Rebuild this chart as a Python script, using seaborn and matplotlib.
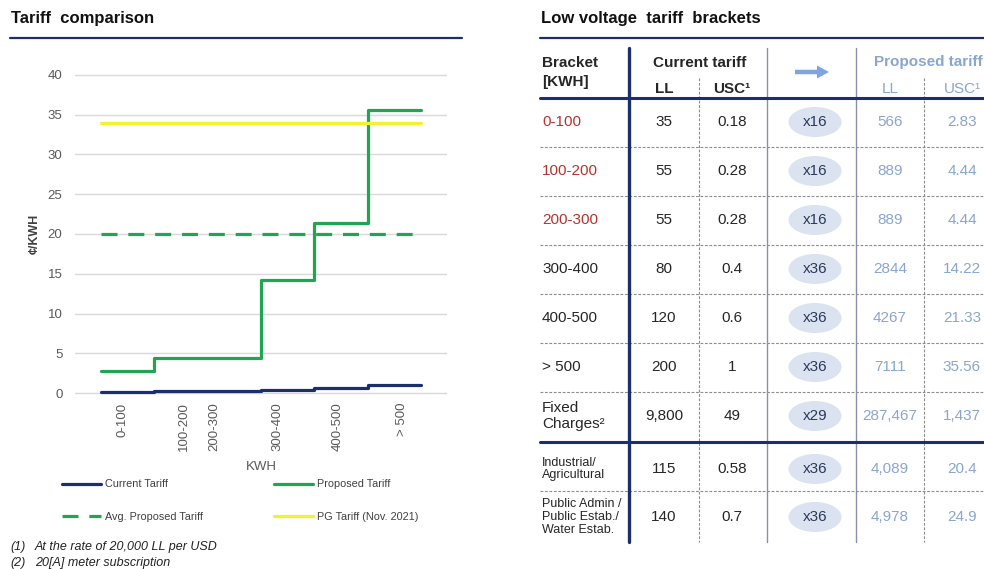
import matplotlib
matplotlib.use("Agg")
import matplotlib.pyplot as plt
from matplotlib.lines import Line2D
from matplotlib.patches import Ellipse, FancyArrow
import seaborn as sns
import pandas as pd

# ---- data -------------------------------------------------------------
bracket_edges = [0, 100, 200, 300, 400, 500, 600]          # kWh
bracket_names = ["0-100", "100-200", "200-300", "300-400", "400-500", "> 500"]
current_ll = [35, 55, 55, 80, 120, 200]                     # LL per kWh
current_usc = [0.18, 0.28, 0.28, 0.4, 0.6, 1.0]              # US cents per kWh
multipliers = ["x16", "x16", "x16", "x36", "x36", "x36"]
proposed_ll = [566, 889, 889, 2844, 4267, 7111]
proposed_usc = [2.83, 4.44, 4.44, 14.22, 21.33, 35.56]
avg_proposed_usc = 20.0
pg_tariff_usc = 34.0

extra_rows = ["Fixed\nCharges²", "Industrial/\nAgricultural",
              "Public Admin /\nPublic Estab./\nWater Estab."]
extra_current_ll = ["9,800", "115", "140"]
extra_current_usc = ["49", "0.58", "0.7"]
extra_multipliers = ["x29", "x36", "x36"]
extra_proposed_ll = ["287,467", "4,089", "4,978"]
extra_proposed_usc = ["1,437", "20.4", "24.9"]

tick_positions = [41, 156, 212, 330, 444, 564]
tick_labels = bracket_names

# ---- style ------------------------------------------------------------
sns.set_style("white")
plt.rcParams["font.family"] = ["Liberation Sans", "DejaVu Sans"]

NAVY = "#1b2f6e"
GREEN = "#20a652"
YELLOW = "#f3f22e"
GRAY = "#595959"
RED = "#b8322f"
LIGHT = "#8aa6cf"
W, H = 984, 569


def fx(px):
    return px / W


def fy(py):
    return 1 - py / H


fig = plt.figure(figsize=(W / 100, H / 100), dpi=100)

# ---- headings ---------------------------------------------------------
fig.text(fx(11), fy(19), "Tariff  comparison", fontsize=12, fontweight="bold",
         color="#111111", va="center", ha="left")
fig.text(fx(541), fy(19), "Low voltage  tariff  brackets", fontsize=12,
         fontweight="bold", color="#111111", va="center", ha="left")
fig.add_artist(Line2D([fx(10), fx(462)], [fy(38), fy(38)], color=NAVY, lw=1.6))
fig.add_artist(Line2D([fx(540), fx(984)], [fy(38), fy(38)], color=NAVY, lw=1.6))

# ---- step chart -------------------------------------------------------
ax = fig.add_axes([fx(75), fy(397), (447 - 75) / W, (397 - 71) / H])

df = pd.DataFrame({
    "kwh": bracket_edges,
    "current": current_usc + current_usc[-1:],
    "proposed": proposed_usc + proposed_usc[-1:],
})
flat = pd.DataFrame({
    "kwh": [bracket_edges[0], bracket_edges[-1]],
    "avg": [avg_proposed_usc] * 2,
    "pg": [pg_tariff_usc] * 2,
})

sns.lineplot(data=df, x="kwh", y="current", ax=ax, color=NAVY, lw=2.3,
             drawstyle="steps-post", estimator=None, sort=False,
             label="Current Tariff", clip_on=False)
sns.lineplot(data=flat, x="kwh", y="avg", ax=ax, color=GREEN, lw=2.3,
             linestyle=(0, (5, 3.4)), estimator=None, sort=False,
             label="Avg. Proposed Tariff")
sns.lineplot(data=df, x="kwh", y="proposed", ax=ax, color=GREEN, lw=2.3,
             drawstyle="steps-post", estimator=None, sort=False,
             label="Proposed Tariff")
sns.lineplot(data=flat, x="kwh", y="pg", ax=ax, color=YELLOW, lw=2.3,
             estimator=None, sort=False, label="PG Tariff (Nov. 2021)")

handles, labels = ax.get_legend_handles_labels()
ax.get_legend().remove()

ax.set_xlim(-48.75, 648.75)
ax.set_ylim(-0.5, 40.5)
ax.set_yticks(range(0, 41, 5))
ax.set_xticks(tick_positions, tick_labels, rotation=90)
ax.tick_params(axis="y", length=0, pad=9, labelsize=9.5, labelcolor=GRAY)
ax.tick_params(axis="x", length=0, pad=4, labelsize=9.5, labelcolor=GRAY)
ax.grid(axis="y", color="#d9d9d9", lw=1)
ax.grid(axis="x", visible=False)
for s in ax.spines.values():
    s.set_visible(False)

ax.set_xlabel("KWH", fontsize=9.5, color=GRAY)
ax.xaxis.set_label_coords(0.5, (397 - 467) / (397 - 71))
ax.xaxis.label.set_va("center")
ax.set_ylabel("¢/KWH", fontsize=9, fontweight="bold", color="#404040")
ax.yaxis.set_label_coords(-(75 - 35) / (447 - 75), 0.5)
ax.yaxis.label.set_va("center")

# legend: two columns placed side by side
hmap = dict(zip(labels, handles))
for x0, names in ((57, ["Current Tariff", "Avg. Proposed Tariff"]),
                  (269, ["Proposed Tariff", "PG Tariff (Nov. 2021)"])):
    fig.legend([hmap[n] for n in names], names, loc="upper left",
               bbox_to_anchor=(fx(x0), fy(474)), frameon=False,
               fontsize=7.8, handlelength=3.6, handletextpad=0.3,
               labelspacing=2.05, borderpad=0, labelcolor="#404040")

# footnotes
for y, num, txt in ((547, "(1)", "At the rate of 20,000 LL per USD"),
                    (563, "(2)", "20[A] meter subscription")):
    fig.text(fx(10), fy(y), num, fontsize=9, style="italic", color="#222222",
             va="center")
    fig.text(fx(35), fy(y), txt, fontsize=9, style="italic", color="#222222",
             va="center")

# ---- tariff table -----------------------------------------------------
tx = fig.add_axes([fx(530), fy(550), 454 / W, 520 / H])
tx.set_xlim(530, 984)
tx.set_ylim(550, 30)
tx.axis("off")

X_LABEL, X_CLL, X_CUSC, X_MUL, X_PLL, X_PUSC = 542, 664, 732, 815, 890, 962
row_y = [122, 171, 220, 269, 318, 367, 416, 469, 517]
dash_y = [147, 196, 245, 294, 343, 392, 491]
DARK = "#262626"
DASH = dict(color="#8c8c8c", lw=0.8, linestyle=(0, (2.5, 1.5)))

# grid lines
for y in dash_y:
    tx.plot([540, 984], [y, y], **DASH)
for x in (699, 924):
    tx.plot([x, x], [78, 542], **DASH)
for x in (767, 856):
    tx.plot([x, x], [48, 542], color="#8790a6", lw=1)
for y in (98, 442):
    tx.plot([540, 984], [y, y], color=NAVY, lw=2.2)
tx.plot([629, 629], [48, 542], color=NAVY, lw=2.4)

# header
tx.text(X_LABEL, 63, "Bracket", fontsize=11, fontweight="bold", color=DARK,
        va="center")
tx.text(X_LABEL, 82, "[KWH]", fontsize=11, fontweight="bold", color=DARK,
        va="center")
tx.text(700, 63, "Current tariff", fontsize=11, fontweight="bold", color=DARK,
        ha="center", va="center")
tx.text(X_CLL, 89, "LL", fontsize=11, fontweight="bold", color=DARK,
        ha="center", va="center")
tx.text(X_CUSC, 89, "USC¹", fontsize=11, fontweight="bold", color=DARK,
        ha="center", va="center")
tx.add_patch(FancyArrow(795, 72, 34, 0, width=4.5, head_width=13,
                        head_length=12, length_includes_head=True,
                        color="#7ea6dc", lw=0))
tx.text(928, 62, "Proposed tariff", fontsize=11, fontweight="bold", color=LIGHT,
        ha="center", va="center")
tx.text(X_PLL, 89, "LL", fontsize=11, color=LIGHT, ha="center", va="center")
tx.text(X_PUSC, 89, "USC¹", fontsize=11, color=LIGHT, ha="center", va="center")

# body rows
labels_col = bracket_names + extra_rows
cll_col = [f"{v:g}" for v in current_ll] + extra_current_ll
cusc_col = [f"{v:g}" for v in current_usc] + extra_current_usc
mul_col = multipliers + extra_multipliers
pll_col = [f"{v:g}" for v in proposed_ll] + extra_proposed_ll
pusc_col = [f"{v:g}" for v in proposed_usc] + extra_proposed_usc

for i, y in enumerate(row_y):
    lab_color = RED if i < 3 else DARK
    lab_size = 9 if i >= 7 else 11
    tx.text(X_LABEL, y, labels_col[i], fontsize=lab_size, color=lab_color,
            va="center", ha="left", linespacing=1.1)
    tx.text(X_CLL, y, cll_col[i], fontsize=11, color=DARK, ha="center",
            va="center")
    tx.text(X_CUSC, y, cusc_col[i], fontsize=11, color=DARK, ha="center",
            va="center")
    tx.add_patch(Ellipse((X_MUL, y), 53, 30, facecolor="#dbe3f0",
                         edgecolor="none"))
    tx.text(X_MUL, y, mul_col[i], fontsize=11, color="#2b3a5c", ha="center",
            va="center")
    tx.text(X_PLL, y, pll_col[i], fontsize=11, color=LIGHT, ha="center",
            va="center")
    tx.text(X_PUSC, y, pusc_col[i], fontsize=11, color=LIGHT, ha="center",
            va="center")

fig.savefig("out.png", dpi=100)
